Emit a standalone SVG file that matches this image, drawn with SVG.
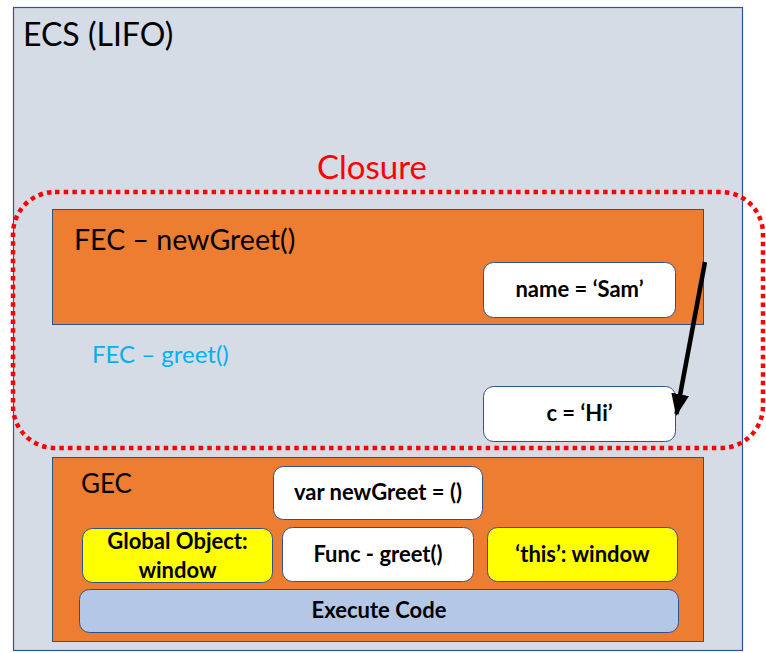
<svg xmlns="http://www.w3.org/2000/svg" width="766" height="653" viewBox="0 0 766 653">
<defs>
<style>
.t{font-family:Lato,"Open Sans","Liberation Sans",sans-serif;fill:#000}
.b{font-weight:bold;font-size:22px;text-anchor:middle}
.box{stroke:#2F528F;stroke-width:1}
.w{fill:#FFFFFF}
.y{fill:#FFFF00}
.o{fill:#ED7D31;stroke:#2F528F;stroke-width:1}
</style>
<marker id="ah" markerUnits="userSpaceOnUse" markerWidth="22" markerHeight="18" refX="20" refY="9" orient="auto">
<path d="M0,0 L22,9 L0,18 Z" fill="#000"/>
</marker>
</defs>
<g id="ecs">
<rect x="13.5" y="7.5" width="729" height="643" fill="#D6DCE5" stroke="#2F5597" stroke-width="1.2"/>
<text class="t" x="23" y="46" font-size="32">ECS (LIFO)</text>
</g>
<g id="fec-newgreet">
<rect class="o" x="52.5" y="209.5" width="651" height="115"/>
<text class="t" x="74" y="250" font-size="28.5">FEC – newGreet()</text>
</g>
<g id="name-sam">
<rect class="box w" x="483.5" y="262.5" width="192" height="55" rx="10"/>
<text class="t b" x="579.5" y="297">name = ‘Sam’</text>
</g>
<g id="fec-greet">
<text class="t" x="92" y="363" font-size="24" style="fill:#00B0F0">FEC – greet()</text>
</g>
<g id="c-hi">
<rect class="box w" x="483.5" y="386.5" width="192" height="55" rx="10"/>
<text class="t b" x="579.5" y="421">c = ‘Hi’</text>
</g>
<g id="closure">
<rect x="13" y="192" width="750" height="256" rx="42" fill="none" stroke="#FF0000" stroke-width="4.5" stroke-dasharray="4.5 4.2"/>
<text class="t" x="317" y="179" font-size="33" style="fill:#FF0000">Closure</text>
</g>
<g id="gec">
<rect class="o" x="52.5" y="457.5" width="651" height="184"/>
<text class="t" x="81" y="493" font-size="26">GEC</text>
</g>
<g id="var-newgreet">
<rect class="box w" x="273.5" y="466.5" width="209" height="53" rx="10"/>
<text class="t b" x="378" y="500">var newGreet = ()</text>
</g>
<g id="global-object">
<rect class="box y" x="82.5" y="528.5" width="190" height="54" rx="10"/>
<text class="t b" x="177.5" y="549">Global Object:</text>
<text class="t b" x="177.5" y="578">window</text>
</g>
<g id="func-greet">
<rect class="box w" x="282.5" y="527.5" width="191" height="54" rx="10"/>
<text class="t b" x="378" y="562">Func - greet()</text>
</g>
<g id="this-window">
<rect class="box y" x="487.5" y="527.5" width="190" height="54" rx="10"/>
<text class="t b" x="582.5" y="562">‘this’: window</text>
</g>
<g id="execute-code">
<rect class="box" x="79.5" y="589.5" width="599" height="43" rx="10" fill="#B4C7E7"/>
<text class="t b" x="379" y="618">Execute Code</text>
</g>
<g id="connectors">
<line x1="705" y1="262" x2="676.5" y2="414" stroke="#000" stroke-width="4.5" marker-end="url(#ah)"/>
</g>
</svg>
